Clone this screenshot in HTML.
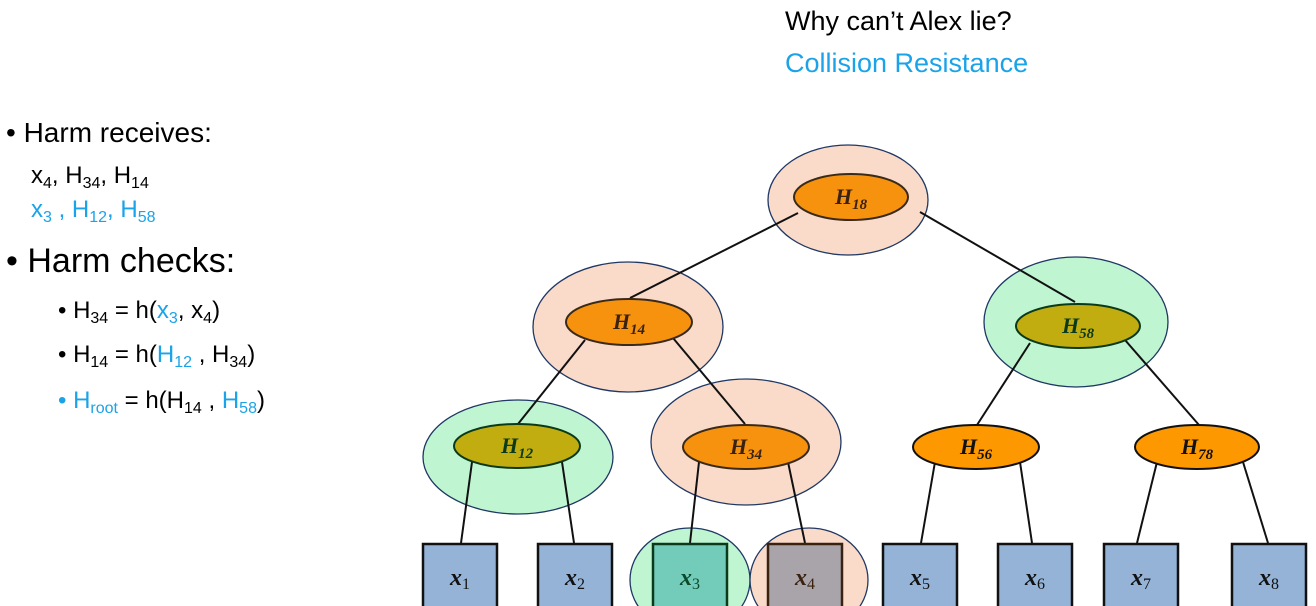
<!DOCTYPE html>
<html><head><meta charset="utf-8"><style>
body{margin:0;width:1316px;height:606px;overflow:hidden;background:#fff}
svg{position:absolute;left:0;top:0}
.t{font-family:"Liberation Sans",sans-serif}
.n{font-family:"Liberation Serif",serif;font-weight:bold;font-style:italic;font-size:22px}
.s{font-size:15px}
.x{font-family:"Liberation Serif",serif;font-weight:bold;font-style:italic;font-size:24px}
.xs{font-family:"Liberation Serif",serif;font-weight:normal;font-style:normal;font-size:16px}
</style></head><body>
<svg width="1316" height="606" viewBox="0 0 1316 606">
<g class="t" font-size="27">
<text x="785" y="30" fill="#000">Why can’t Alex lie?</text>
<text x="785" y="72" fill="#1aa3e8">Collision Resistance</text>
</g>
<g class="t">
<text x="6" y="142" font-size="28">• Harm receives:</text>
<text x="31" y="183" font-size="24">x<tspan font-size="16" dy="5">4</tspan><tspan dy="-5">, H</tspan><tspan font-size="16" dy="5">34</tspan><tspan dy="-5">, H</tspan><tspan font-size="16" dy="5">14</tspan></text>
<text x="31" y="217" font-size="24" fill="#1aa3e8">x<tspan font-size="16" dy="5">3</tspan><tspan dy="-5"> , H</tspan><tspan font-size="16" dy="5">12</tspan><tspan dy="-5">, H</tspan><tspan font-size="16" dy="5">58</tspan></text>
<text x="6" y="272" font-size="34">• Harm checks:</text>
<text x="58" y="318" font-size="24">• H<tspan font-size="16" dy="5">34</tspan><tspan dy="-5"> = h(</tspan><tspan fill="#1aa3e8">x</tspan><tspan fill="#1aa3e8" font-size="16" dy="5">3</tspan><tspan dy="-5">, x</tspan><tspan font-size="16" dy="5">4</tspan><tspan dy="-5">)</tspan></text>
<text x="58" y="362" font-size="24">• H<tspan font-size="16" dy="5">14</tspan><tspan dy="-5"> = h(</tspan><tspan fill="#1aa3e8">H</tspan><tspan fill="#1aa3e8" font-size="16" dy="5">12</tspan><tspan dy="-5"> , H</tspan><tspan font-size="16" dy="5">34</tspan><tspan dy="-5">)</tspan></text>
<text x="58" y="408" font-size="24"><tspan fill="#1aa3e8">•  H</tspan><tspan fill="#1aa3e8" font-size="16" dy="5">root</tspan><tspan dy="-5"> = h(H</tspan><tspan font-size="16" dy="5">14</tspan><tspan dy="-5"> , </tspan><tspan fill="#1aa3e8">H</tspan><tspan fill="#1aa3e8" font-size="16" dy="5">58</tspan><tspan dy="-5">)</tspan></text>
</g>
<!-- halos -->
<g stroke="#1f3864" stroke-width="1.3">
<ellipse cx="848" cy="200" rx="80" ry="55" fill="#fadbca"/>
<ellipse cx="628" cy="327" rx="95" ry="65" fill="#fadbca"/>
<ellipse cx="1076" cy="322" rx="92" ry="65" fill="#c0f5d2"/>
<ellipse cx="518" cy="457" rx="95" ry="57" fill="#c0f5d2"/>
<ellipse cx="746" cy="442" rx="95" ry="63" fill="#fadbca"/>
<ellipse cx="690" cy="580" rx="60" ry="52" fill="#c0f5d2"/>
<ellipse cx="809" cy="580" rx="59" ry="52" fill="#fadbca"/>
</g>
<g stroke="#111" stroke-width="2">
<line x1="798" y1="213" x2="630" y2="298"/>
<line x1="920" y1="212" x2="1075" y2="302"/>
<line x1="585" y1="340" x2="518" y2="424"/>
<line x1="673" y1="338" x2="745" y2="424"/>
<line x1="1030" y1="343" x2="977" y2="425"/>
<line x1="1125" y1="340" x2="1199" y2="425"/>
<line x1="472" y1="462" x2="461" y2="543"/>
<line x1="562" y1="462" x2="574" y2="543"/>
<line x1="699" y1="462" x2="690" y2="543"/>
<line x1="788" y1="462" x2="805" y2="543"/>
<line x1="935" y1="462" x2="921" y2="543"/>
<line x1="1020" y1="462" x2="1032" y2="543"/>
<line x1="1157" y1="462" x2="1137" y2="543"/>
<line x1="1243" y1="462" x2="1268" y2="543"/>
</g>
<g stroke-width="2">
<ellipse cx="851" cy="197" rx="57" ry="23" fill="#f7920f" stroke="#3a2a1a"/>
<ellipse cx="629" cy="322" rx="63" ry="23" fill="#f7920f" stroke="#3a2a1a"/>
<ellipse cx="1078" cy="326" rx="62" ry="22" fill="#c2ad10" stroke="#0a3a1a"/>
<ellipse cx="517" cy="446" rx="63" ry="22" fill="#c2ad10" stroke="#0a3a1a"/>
<ellipse cx="746" cy="447" rx="63" ry="22" fill="#f7920f" stroke="#3a2a1a"/>
<ellipse cx="976" cy="447" rx="63" ry="22" fill="#fd9800" stroke="#111"/>
<ellipse cx="1197" cy="447" rx="62" ry="22" fill="#fd9800" stroke="#111"/>
</g>
<g class="n" text-anchor="middle">
<text x="851" y="204" fill="#3a2210">H<tspan class="s" dy="5">18</tspan></text>
<text x="629" y="329" fill="#3a2210">H<tspan class="s" dy="5">14</tspan></text>
<text x="1078" y="333" fill="#0a3a1a">H<tspan class="s" dy="5">58</tspan></text>
<text x="517" y="453" fill="#0a3a1a">H<tspan class="s" dy="5">12</tspan></text>
<text x="746" y="454" fill="#3a2210">H<tspan class="s" dy="5">34</tspan></text>
<text x="976" y="454" fill="#111">H<tspan class="s" dy="5">56</tspan></text>
<text x="1197" y="454" fill="#111">H<tspan class="s" dy="5">78</tspan></text>
</g>
<g stroke-width="2.5">
<rect x="423" y="544" width="74" height="64" fill="#94b3d6" stroke="#111"/>
<rect x="538" y="544" width="74" height="64" fill="#94b3d6" stroke="#111"/>
<rect x="653" y="544" width="74" height="64" fill="#73cbb9" stroke="#0a3a1a"/>
<rect x="768" y="544" width="74" height="64" fill="#a9a3aa" stroke="#3a2210"/>
<rect x="883" y="544" width="74" height="64" fill="#94b3d6" stroke="#111"/>
<rect x="998" y="544" width="74" height="64" fill="#94b3d6" stroke="#111"/>
<rect x="1104" y="544" width="74" height="64" fill="#94b3d6" stroke="#111"/>
<rect x="1232" y="544" width="74" height="64" fill="#94b3d6" stroke="#111"/>
</g>
<g class="x" text-anchor="middle">
<text x="460" y="585" fill="#111">x<tspan class="xs" dy="4">1</tspan></text>
<text x="575" y="585" fill="#111">x<tspan class="xs" dy="4">2</tspan></text>
<text x="690" y="585" fill="#0a4a2a">x<tspan class="xs" dy="4">3</tspan></text>
<text x="805" y="585" fill="#3a2210">x<tspan class="xs" dy="4">4</tspan></text>
<text x="920" y="585" fill="#111">x<tspan class="xs" dy="4">5</tspan></text>
<text x="1035" y="585" fill="#111">x<tspan class="xs" dy="4">6</tspan></text>
<text x="1141" y="585" fill="#111">x<tspan class="xs" dy="4">7</tspan></text>
<text x="1269" y="585" fill="#111">x<tspan class="xs" dy="4">8</tspan></text>
</g>
</svg>
</body></html>
